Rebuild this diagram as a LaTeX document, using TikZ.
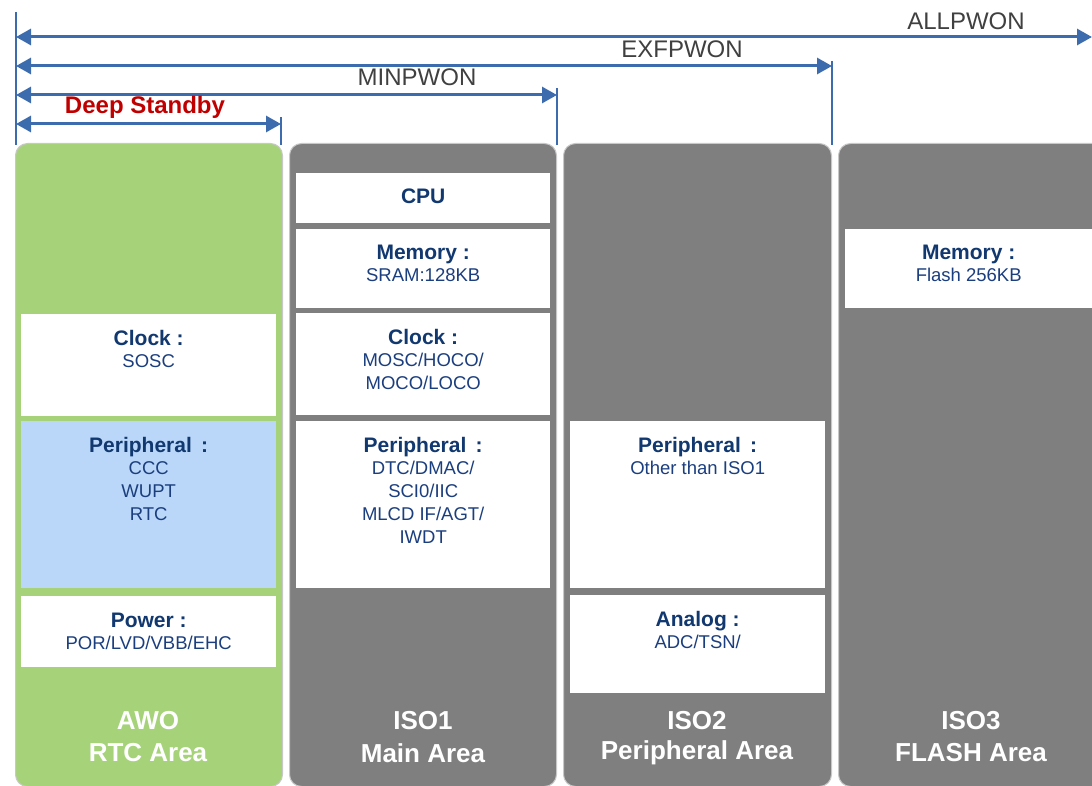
\documentclass[tikz,border=0pt]{standalone}
\usepackage{fontspec}
\setmainfont{Liberation Sans}
\usetikzlibrary{arrows.meta}
\definecolor{awogreen}{HTML}{A6D27A}
\definecolor{isogray}{HTML}{7F7F7F}
\definecolor{edgegray}{HTML}{C8C8C8}
\definecolor{perblue}{HTML}{BAD7F9}
\definecolor{arrowblue}{HTML}{3D6CAE}
\definecolor{navy}{HTML}{11386F}
\definecolor{subnavy}{HTML}{1B3E7E}
\definecolor{labelgray}{HTML}{404040}
\definecolor{alertred}{HTML}{C00000}
\begin{document}
\begin{tikzpicture}[x=1pt,y=-1pt,
  col/.style={draw=edgegray, line width=1pt, rounded corners=12pt, anchor=north west,
    inner sep=0pt, minimum height=643pt},
  cell/.style={fill=white, anchor=north west, inner sep=0pt},
  ttl/.style={anchor=base, text=navy, font=\fontsize{21}{24}\selectfont\bfseries, inner sep=0pt},
  sub/.style={anchor=base, text=subnavy, font=\fontsize{18.5}{22}\selectfont, inner sep=0pt},
  area/.style={text=white, font=\fontsize{26}{30}\selectfont\bfseries, inner sep=0pt},
  rng/.style={anchor=base, text=labelgray, font=\fontsize{24}{28}\selectfont, inner sep=0pt},
  span/.style={draw=arrowblue, line width=3pt,
    {Triangle[length=15pt,width=16pt]}-{Triangle[length=15pt,width=16pt]}},
  tick/.style={draw=arrowblue, line width=2pt}]
\useasboundingbox (0,0) rectangle (1092,786);
\clip (0,0) rectangle (1092,786);

% power domain columns
\node[col, fill=awogreen, minimum width=267pt] (awo)  at (15,143) {};
\node[col, fill=isogray,  minimum width=267pt] (iso1) at (289,143) {};
\node[col, fill=isogray,  minimum width=268pt] (iso2) at (563,143) {};
\node[col, fill=isogray,  minimum width=280pt] (iso3) at (838,143) {};

% AWO blocks
\node[cell, minimum width=255pt, minimum height=102pt] (awoclk) at (21,314) {};
\node[cell, fill=perblue, minimum width=255pt, minimum height=167pt] (awoper) at (21,421) {};
\node[cell, minimum width=255pt, minimum height=71pt] (awopwr) at (21,596) {};

\node[ttl] (awoclkT) at ([yshift=-31pt]awoclk.north) {Clock :};
\node[sub] (awoclk1) at ([yshift=-53pt]awoclk.north) {SOSC};

\node[ttl] (awoperT) at ([yshift=-31pt]awoper.north) {Peripheral\, :};
\node[sub] (awoper1) at ([yshift=-53pt]awoper.north) {CCC};
\node[sub] (awoper2) at ([yshift=-76pt]awoper.north) {WUPT};
\node[sub] (awoper3) at ([yshift=-99pt]awoper.north) {RTC};

\node[ttl] (awopwrT) at ([yshift=-31pt]awopwr.north) {Power :};
\node[sub] (awopwr1) at ([yshift=-53pt]awopwr.north) {POR/LVD/VBB/EHC};

% ISO1 blocks
\node[cell, minimum width=254pt, minimum height=50pt] (cpu) at (296,173) {};
\node[cell, minimum width=254pt, minimum height=79pt] (mem1) at (296,229) {};
\node[cell, minimum width=254pt, minimum height=102pt] (clk1) at (296,313) {};
\node[cell, minimum width=254pt, minimum height=167pt] (per1) at (296,421) {};

\node[ttl] (cpuT) at ([yshift=-31pt]cpu.north) {CPU};
\node[ttl] (mem1T) at ([yshift=-31pt]mem1.north) {Memory :};
\node[sub] (mem1a) at ([yshift=-53pt]mem1.north) {SRAM:128KB};
\node[ttl] (clk1T) at ([yshift=-31pt]clk1.north) {Clock :};
\node[sub] (clk1a) at ([yshift=-53pt]clk1.north) {MOSC/HOCO/};
\node[sub] (clk1b) at ([yshift=-76pt]clk1.north) {MOCO/LOCO};
\node[ttl] (per1T) at ([yshift=-31pt]per1.north) {Peripheral\, :};
\node[sub] (per1a) at ([yshift=-53pt]per1.north) {DTC/DMAC/};
\node[sub] (per1b) at ([yshift=-76pt]per1.north) {SCI0/IIC};
\node[sub] (per1c) at ([yshift=-99pt]per1.north) {MLCD IF/AGT/};
\node[sub] (per1d) at ([yshift=-122pt]per1.north) {IWDT};

% ISO2 blocks
\node[cell, minimum width=255pt, minimum height=167pt] (per2) at (570,421) {};
\node[cell, minimum width=255pt, minimum height=98pt] (ana2) at (570,595) {};
\node[ttl] (per2T) at ([yshift=-31pt]per2.north) {Peripheral\, :};
\node[sub] (per2a) at ([yshift=-53pt]per2.north) {Other than ISO1};
\node[ttl] (ana2T) at ([yshift=-31pt]ana2.north) {Analog :};
\node[sub] (ana2a) at ([yshift=-53pt]ana2.north) {ADC/TSN/};

% ISO3 block
\node[cell, minimum width=247pt, minimum height=79pt] (mem3) at (845,229) {};
\node[ttl] (mem3T) at ([yshift=-31pt]mem3.north) {Memory :};
\node[sub] (mem3a) at ([yshift=-53pt]mem3.north) {Flash 256KB};

% area names
\node[area] (awoN1) at (148,721) {AWO};
\node[area] (awoN2) at (148,753) {RTC Area};
\node[area] (iso1N1) at (423,721) {ISO1};
\node[area] (iso1N2) at (423,753) {Main Area};
\node[area] (iso2N1) at (697,721) {ISO2};
\node[area] (iso2N2) at (697,753) {Peripheral Area};
\node[area] (iso3N1) at (971,721) {ISO3};
\node[area] (iso3N2) at (971,753) {FLASH Area};

% power mode ranges
\coordinate (origTop) at (16,12);
\coordinate (origBot) at (16,145);
\coordinate (allL) at (16,37);
\coordinate (allR) at (1092,37);
\coordinate (exfL) at (16,66);
\coordinate (exfR) at (832,66);
\coordinate (minL) at (16,95);
\coordinate (minR) at (557,95);
\coordinate (dsL) at (16,124);
\coordinate (dsR) at (281,124);
\coordinate (exfTop) at (832,61);
\coordinate (exfBot) at (832,145);
\coordinate (minTop) at (557,88);
\coordinate (minBot) at (557,145);
\coordinate (dsTop) at (281,117);
\coordinate (dsBot) at (281,145);

\draw[tick] (origTop) -- (origBot);
\draw[tick] (exfTop) -- (exfBot);
\draw[tick] (minTop) -- (minBot);
\draw[tick] (dsTop) -- (dsBot);

\draw[span] (allL) -- (allR);
\draw[span] (exfL) -- (exfR);
\draw[span] (minL) -- (minR);
\draw[span] (dsL) -- (dsR);

\node[rng] (allT) at (966,30) {ALLPWON};
\node[rng] (exfT) at (682,58) {EXFPWON};
\node[rng] (minT) at (417,86) {MINPWON};
\node[anchor=base, text=alertred, font=\fontsize{24}{28}\selectfont\bfseries, inner sep=0pt]
  (dsT) at (145,114) {Deep Standby};
\end{tikzpicture}
\end{document}
